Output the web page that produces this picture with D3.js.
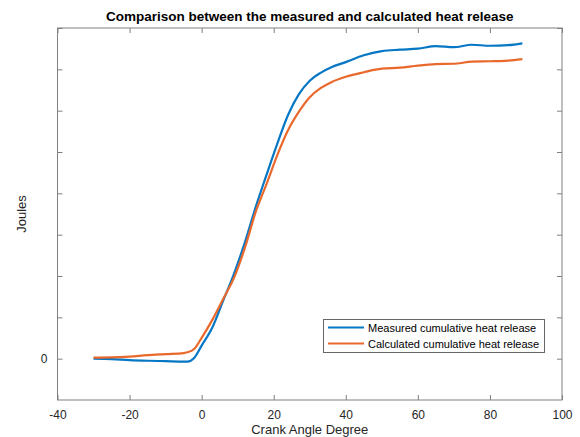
<!DOCTYPE html>
<html>
<head>
<meta charset="utf-8">
<script src="https://cdn.jsdelivr.net/npm/d3@7"></script>
<style>
  body { margin: 0; background: #fff; }
  svg { display: block; font-family: "Liberation Sans", Arial, Helvetica, sans-serif; }
</style>
</head>
<body>
<svg id="chart" width="580" height="437"></svg>
<script>
// ---- data ----
const crankAngles = [-30,-25,-20,-15,-10,-5,-4,-2,0,3,6,9,12,15,18,21,24,27,30,33,36,40,45,50,55,60,65,70,75,80,85,89];
const measured   = [0,-2,-7,-10,-12,-14,-14,5,63,152,282,412,563,734,889,1040,1180,1280,1345,1383,1410,1435,1468,1488,1495,1500,1512,1507,1519,1514,1517,1526];
const calculated = [5,6,10,17,22,27,31,48,101,189,290,392,536,710,845,985,1106,1195,1265,1309,1338,1364,1386,1403,1408,1418,1425,1427,1437,1439,1442,1449];
const xTicks = [-40,-20,0,20,40,60,80,100];
const yTicks = [0,200,400,600,800,1000,1200,1400,1600];
const yTickLabels = {0: "0"};
const seriesNames = ["Measured cumulative heat release", "Calculated cumulative heat release"];
const seriesColors = ["#0677C4", "#E9692C"];

const svg = d3.select("#chart");
const L = 57.5, R = 562, T = 28, B = 400;
const x = d3.scaleLinear().domain([-40, 100]).range([L, R]);
const y = d3.scaleLinear().domain([-200, 1600]).range([B, T]);
const axisColor = "#808080";
const textColor = "#262626";
const tickLen = 5;

// frame
svg.append("rect").attr("x", L).attr("y", T).attr("width", R - L).attr("height", B - T)
  .attr("fill", "#fff").attr("stroke", axisColor).attr("stroke-width", 1);

// x ticks (bottom and top, inward)
const gx = svg.append("g").attr("transform", `translate(0,${B})`)
  .call(d3.axisBottom(x).tickValues(xTicks).tickSizeInner(-tickLen).tickSizeOuter(0).tickPadding(10)
    .tickFormat(d => String(d)));
gx.select(".domain").remove();
gx.selectAll("line").attr("stroke", axisColor);
gx.selectAll("text").attr("fill", textColor).attr("font-size", 12);
const gxt = svg.append("g").attr("transform", `translate(0,${T})`)
  .call(d3.axisTop(x).tickValues(xTicks).tickSizeInner(-tickLen).tickSizeOuter(0).tickFormat(""));
gxt.select(".domain").remove();
gxt.selectAll("line").attr("stroke", axisColor);

// y ticks (left and right, inward)
const gy = svg.append("g").attr("transform", `translate(${L},0)`)
  .call(d3.axisLeft(y).tickValues(yTicks).tickSizeInner(-tickLen).tickSizeOuter(0).tickPadding(10)
    .tickFormat(d => yTickLabels[d] || ""));
gy.select(".domain").remove();
gy.selectAll("line").attr("stroke", axisColor);
gy.selectAll("text").attr("fill", textColor).attr("font-size", 12);
const gyr = svg.append("g").attr("transform", `translate(${R},0)`)
  .call(d3.axisRight(y).tickValues(yTicks).tickSizeInner(-tickLen).tickSizeOuter(0).tickFormat(""));
gyr.select(".domain").remove();
gyr.selectAll("line").attr("stroke", axisColor);

// lines
const line = d3.line().x((d, i) => x(crankAngles[i])).y(d => y(d)).curve(d3.curveMonotoneX);
[measured, calculated].forEach((s, k) => {
  svg.append("path").datum(s).attr("d", line).attr("fill", "none")
    .attr("stroke", seriesColors[k]).attr("stroke-width", 2.2).attr("stroke-linejoin", "round");
});

// title
svg.append("text").attr("x", (L + R) / 2).attr("y", 21).attr("text-anchor", "middle")
  .attr("font-weight", "bold").attr("font-size", 13.5).attr("fill", "#000")
  .text("Comparison between the measured and calculated heat release");

// axis labels
svg.append("text").attr("x", (L + R) / 2).attr("y", 434).attr("text-anchor", "middle")
  .attr("font-size", 13).attr("fill", textColor).text("Crank Angle Degree");
svg.append("text").attr("transform", `translate(26,${(T + B) / 2}) rotate(-90)`)
  .attr("text-anchor", "middle").attr("font-size", 13).attr("fill", textColor).text("Joules");

// legend
const lg = svg.append("g");
lg.append("rect").attr("x", 323.5).attr("y", 319.5).attr("width", 221).attr("height", 33)
  .attr("fill", "#fff").attr("stroke", "#666").attr("stroke-width", 1);
seriesNames.forEach((n, k) => {
  const yy = 327.5 + k * 16;
  lg.append("line").attr("x1", 328).attr("x2", 364).attr("y1", yy).attr("y2", yy)
    .attr("stroke", seriesColors[k]).attr("stroke-width", 2.2);
  lg.append("text").attr("x", 368).attr("y", yy + 4).attr("font-size", 11)
    .attr("fill", "#000").text(n);
});
</script>
</body>
</html>
